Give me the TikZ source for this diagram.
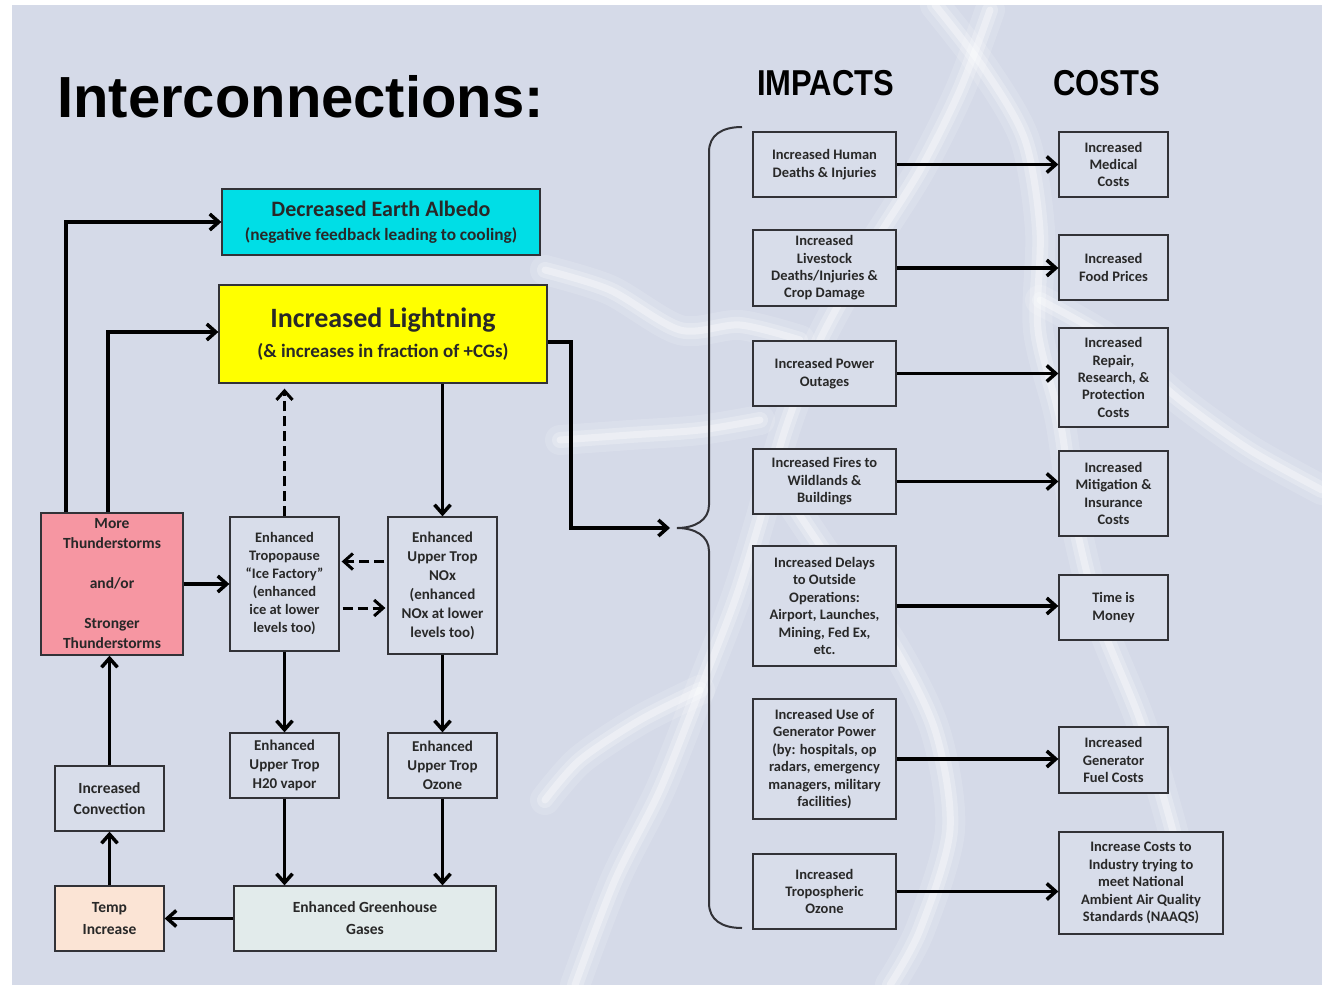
\documentclass[tikz,border=0pt]{standalone}
\usepackage{fontspec}
\setmainfont{Carlito}
\newfontfamily\titlefont{Liberation Sans}
\newfontfamily\headfont[FakeStretch=0.86]{Liberation Sans}
\usetikzlibrary{arrows.meta}
\definecolor{slideback}{RGB}{213,218,232}
\definecolor{cAlbedo}{RGB}{0,222,230}
\definecolor{cLight}{RGB}{255,255,0}
\definecolor{cStorm}{RGB}{246,150,162}
\definecolor{cTemp}{RGB}{251,228,213}
\definecolor{cGas}{RGB}{226,235,235}
\definecolor{cBox}{RGB}{216,221,234}
\definecolor{cLine}{RGB}{50,50,55}
\definecolor{cText}{RGB}{40,40,40}

\begin{document}
\begin{tikzpicture}[x=1pt,y=-1pt,>={Straight Barb[length=9pt,width=16pt]},
  box/.style={draw=cLine,line width=1.3pt,fill=cBox,align=center,inner sep=2pt,text=cText},
  lbox/.style={box,font=\fontsize{15}{19}\selectfont\bfseries},
  rbox/.style={box,font=\fontsize{14.5}{17.4}\selectfont\bfseries},
  arr/.style={->,line width=3.5pt},
  dasharr/.style={arr,line width=3pt,dash pattern=on 10pt off 5pt},
  haze/.style={white,line width=30pt,opacity=0.14,line cap=round,line join=round},
  glow/.style={white,line width=16pt,opacity=0.24,line cap=round,line join=round},
  core/.style={white,line width=7pt,opacity=0.35,line cap=round,line join=round}]
  % slide background
  \useasboundingbox (0,0) rectangle (1322,985);
  \fill[white] (0,0) rectangle (1322,985);
  \fill[slideback] (12,5) rectangle (1322,985);
  % faint lightning behind everything
  \foreach \s in {haze,glow,core}{
    \draw[\s] plot[smooth] coordinates {(990,10) (960,90) (920,170) (870,250) (820,340) (785,430) (760,520) (735,600) (700,690) (660,790) (615,880) (575,985)};
    \draw[\s] plot[smooth] coordinates {(935,5) (985,70) (1025,140) (1040,230) (1038,330) (1060,420) (1075,520) (1100,620) (1140,720) (1170,820) (1190,900)};
    \draw[\s] plot[smooth] coordinates {(1040,300) (1110,340) (1180,400) (1250,450) (1322,490)};
    \draw[\s] plot[smooth] coordinates {(545,270) (610,290) (680,330) (740,325) (800,340)};
    \draw[\s] plot[smooth] coordinates {(770,470) (830,560) (890,640) (935,730) (950,830) (920,930) (890,985)};
    \draw[\s] plot[smooth] coordinates {(560,440) (630,435) (700,430) (760,420)};
    \draw[\s] plot[smooth] coordinates {(700,690) (640,720) (580,760) (545,800)};
  }

  % headings
  \node[anchor=base west,inner sep=0,font=\titlefont\bfseries\fontsize{58}{58}\selectfont] (title) at (57,117) {Interconnections:};
  \node[anchor=base west,inner sep=0,font=\headfont\bfseries\fontsize{36}{36}\selectfont] (impacts) at (757,95) {IMPACTS};
  \node[anchor=base west,inner sep=0,font=\headfont\bfseries\fontsize{36}{36}\selectfont] (costs) at (1053,95) {COSTS};

  % feedback loop
  \node[box,fill=cAlbedo,minimum width=318pt,minimum height=66pt,font=\fontsize{17.3}{24}\selectfont\bfseries] (albedo) at (381,222)
       {{\fontsize{22}{24}\selectfont Decreased Earth Albedo}\\(negative feedback leading to cooling)};
  \node[box,fill=cLight,minimum width=328pt,minimum height=98pt,font=\fontsize{19}{30}\selectfont\bfseries] (light) at (383,334)
       {{\fontsize{28}{30}\selectfont Increased Lightning}\\(\&~increases in fraction of +CGs)};
  \node[lbox,fill=cStorm,minimum width=142pt,minimum height=142pt,font=\fontsize{15.5}{20}\selectfont\bfseries] (storms) at (112,584)
       {More\\Thunderstorms\\[20pt]and/or\\[20pt]Stronger\\Thunderstorms};
  \node[lbox,minimum width=109pt,minimum height=134pt,font=\fontsize{14.5}{18}\selectfont\bfseries] (ice) at (284.5,584)
       {Enhanced\\Tropopause\\“Ice Factory”\\(enhanced\\ice at lower\\levels too)};
  \node[lbox,minimum width=109pt,minimum height=137pt] (nox) at (442.5,585.5)
       {Enhanced\\Upper Trop\\NOx\\(enhanced\\NOx at lower\\levels too)};
  \node[lbox,minimum width=109pt,minimum height=65pt] (water) at (284.5,765.5) {Enhanced\\Upper Trop\\H20 vapor};
  \node[lbox,minimum width=109pt,minimum height=65pt] (ozone) at (442.5,765.5) {Enhanced\\Upper Trop\\Ozone};
  \node[lbox,minimum width=109pt,minimum height=65pt,font=\fontsize{15.5}{21}\selectfont\bfseries] (conv) at (109.5,798.5) {Increased\\Convection};
  \node[lbox,fill=cTemp,minimum width=109pt,minimum height=65pt,font=\fontsize{15.5}{22}\selectfont\bfseries] (temp) at (109.5,918.5) {Temp\\Increase};
  \node[lbox,fill=cGas,minimum width=262pt,minimum height=65pt,font=\fontsize{15.5}{22}\selectfont\bfseries] (gas) at (365,918.5) {Enhanced Greenhouse\\Gases};

  % impacts
  \node[rbox,minimum width=143pt,minimum height=65pt] (human) at (824.5,164.5) {Increased Human\\Deaths \& Injuries};
  \node[rbox,minimum width=143pt,minimum height=76pt] (stock) at (824.5,268) {Increased\\Livestock\\Deaths/Injuries \&\\Crop Damage};
  \node[rbox,minimum width=143pt,minimum height=65pt] (power) at (824.5,373.5) {Increased Power\\Outages};
  \node[rbox,minimum width=143pt,minimum height=65pt] (fires) at (824.5,481.5) {Increased Fires to\\Wildlands \&\\Buildings};
  \node[rbox,minimum width=143pt,minimum height=120pt] (delays) at (824.5,606) {Increased Delays\\to Outside\\Operations:\\Airport, Launches,\\Mining, Fed Ex,\\etc.};
  \node[rbox,minimum width=143pt,minimum height=120pt] (genuse) at (824.5,759) {Increased Use of\\Generator Power\\(by: hospitals, op\\radars, emergency\\managers, military\\facilities)};
  \node[rbox,minimum width=143pt,minimum height=75pt] (tropo) at (824.5,891.5) {Increased\\Tropospheric\\Ozone};

  % costs
  \node[rbox,minimum width=109pt,minimum height=65pt] (medical) at (1113.5,164.5) {Increased\\Medical\\Costs};
  \node[rbox,minimum width=109pt,minimum height=65pt] (food) at (1113.5,267.5) {Increased\\Food Prices};
  \node[rbox,minimum width=109pt,minimum height=99pt] (repair) at (1113.5,377.5) {Increased\\Repair,\\Research, \&\\Protection\\Costs};
  \node[rbox,minimum width=109pt,minimum height=85pt] (mitig) at (1113.5,493.5) {Increased\\Mitigation \&\\Insurance\\Costs};
  \node[rbox,minimum width=109pt,minimum height=65pt] (money) at (1113.5,607.5) {Time is\\Money};
  \node[rbox,minimum width=109pt,minimum height=66pt] (fuel) at (1113.5,760) {Increased\\Generator\\Fuel Costs};
  \node[rbox,minimum width=164pt,minimum height=102pt] (naaqs) at (1141,883) {Increase Costs to\\Industry trying to\\meet National\\Ambient Air Quality\\Standards (NAAQS)};

  % connectors of the loop
  \draw[arr] ([xshift=-46pt]storms.north) |- (albedo.west);
  \draw[arr] ([xshift=-4pt]storms.north) |- ([yshift=2pt]light.west);
  \draw[arr] (storms.east) -- (ice.west);
  \draw[dasharr,shorten >=5pt] (ice.north) -- (ice.north |- light.south);
  \draw[arr] (nox.north |- light.south) -- (nox.north);
  \coordinate (nu) at ([yshift=24pt]nox.west);
  \coordinate (iu) at ([yshift=-24pt]ice.east);
  \draw[dasharr,shorten <=3pt,shorten >=2pt] (nu) -- (nu -| ice.east);
  \draw[dasharr,shorten <=3pt,shorten >=2pt] (iu) -- (iu -| nox.west);
  \draw[arr] (ice.south) -- (water.north);
  \draw[arr] (nox.south) -- (ozone.north);
  \draw[arr] (water.south) -- (water.south |- gas.north);
  \draw[arr] (ozone.south) -- (ozone.south |- gas.north);
  \draw[arr] (gas.west) -- (temp.east);
  \draw[arr] (temp.north) -- (conv.south);
  \draw[arr] (conv.north) -- (conv.north |- storms.south);

  % lightning feeds the impacts brace
  \coordinate (lexit) at ([yshift=-8pt]light.east);
  \coordinate (bend) at (571,528);
  \coordinate (brtip) at (670,528);
  \draw[arr] (lexit) -| (bend) -- (brtip);
  \draw[line width=2pt,cLine] (742,127) .. controls (722,127) and (709,135) .. (709,152) -- (709,505)
       .. controls (709,520) and (695,528) .. (677,528) .. controls (695,528) and (709,536) .. (709,551)
       -- (709,903) .. controls (709,920) and (722,928) .. (742,928);

  % impacts to costs
  \foreach \a/\b in {human/medical,stock/food,power/repair,fires/mitig,delays/money,genuse/fuel,tropo/naaqs}
    \draw[arr] (\a.east) -- (\a.east -| \b.west);
\end{tikzpicture}
\end{document}
